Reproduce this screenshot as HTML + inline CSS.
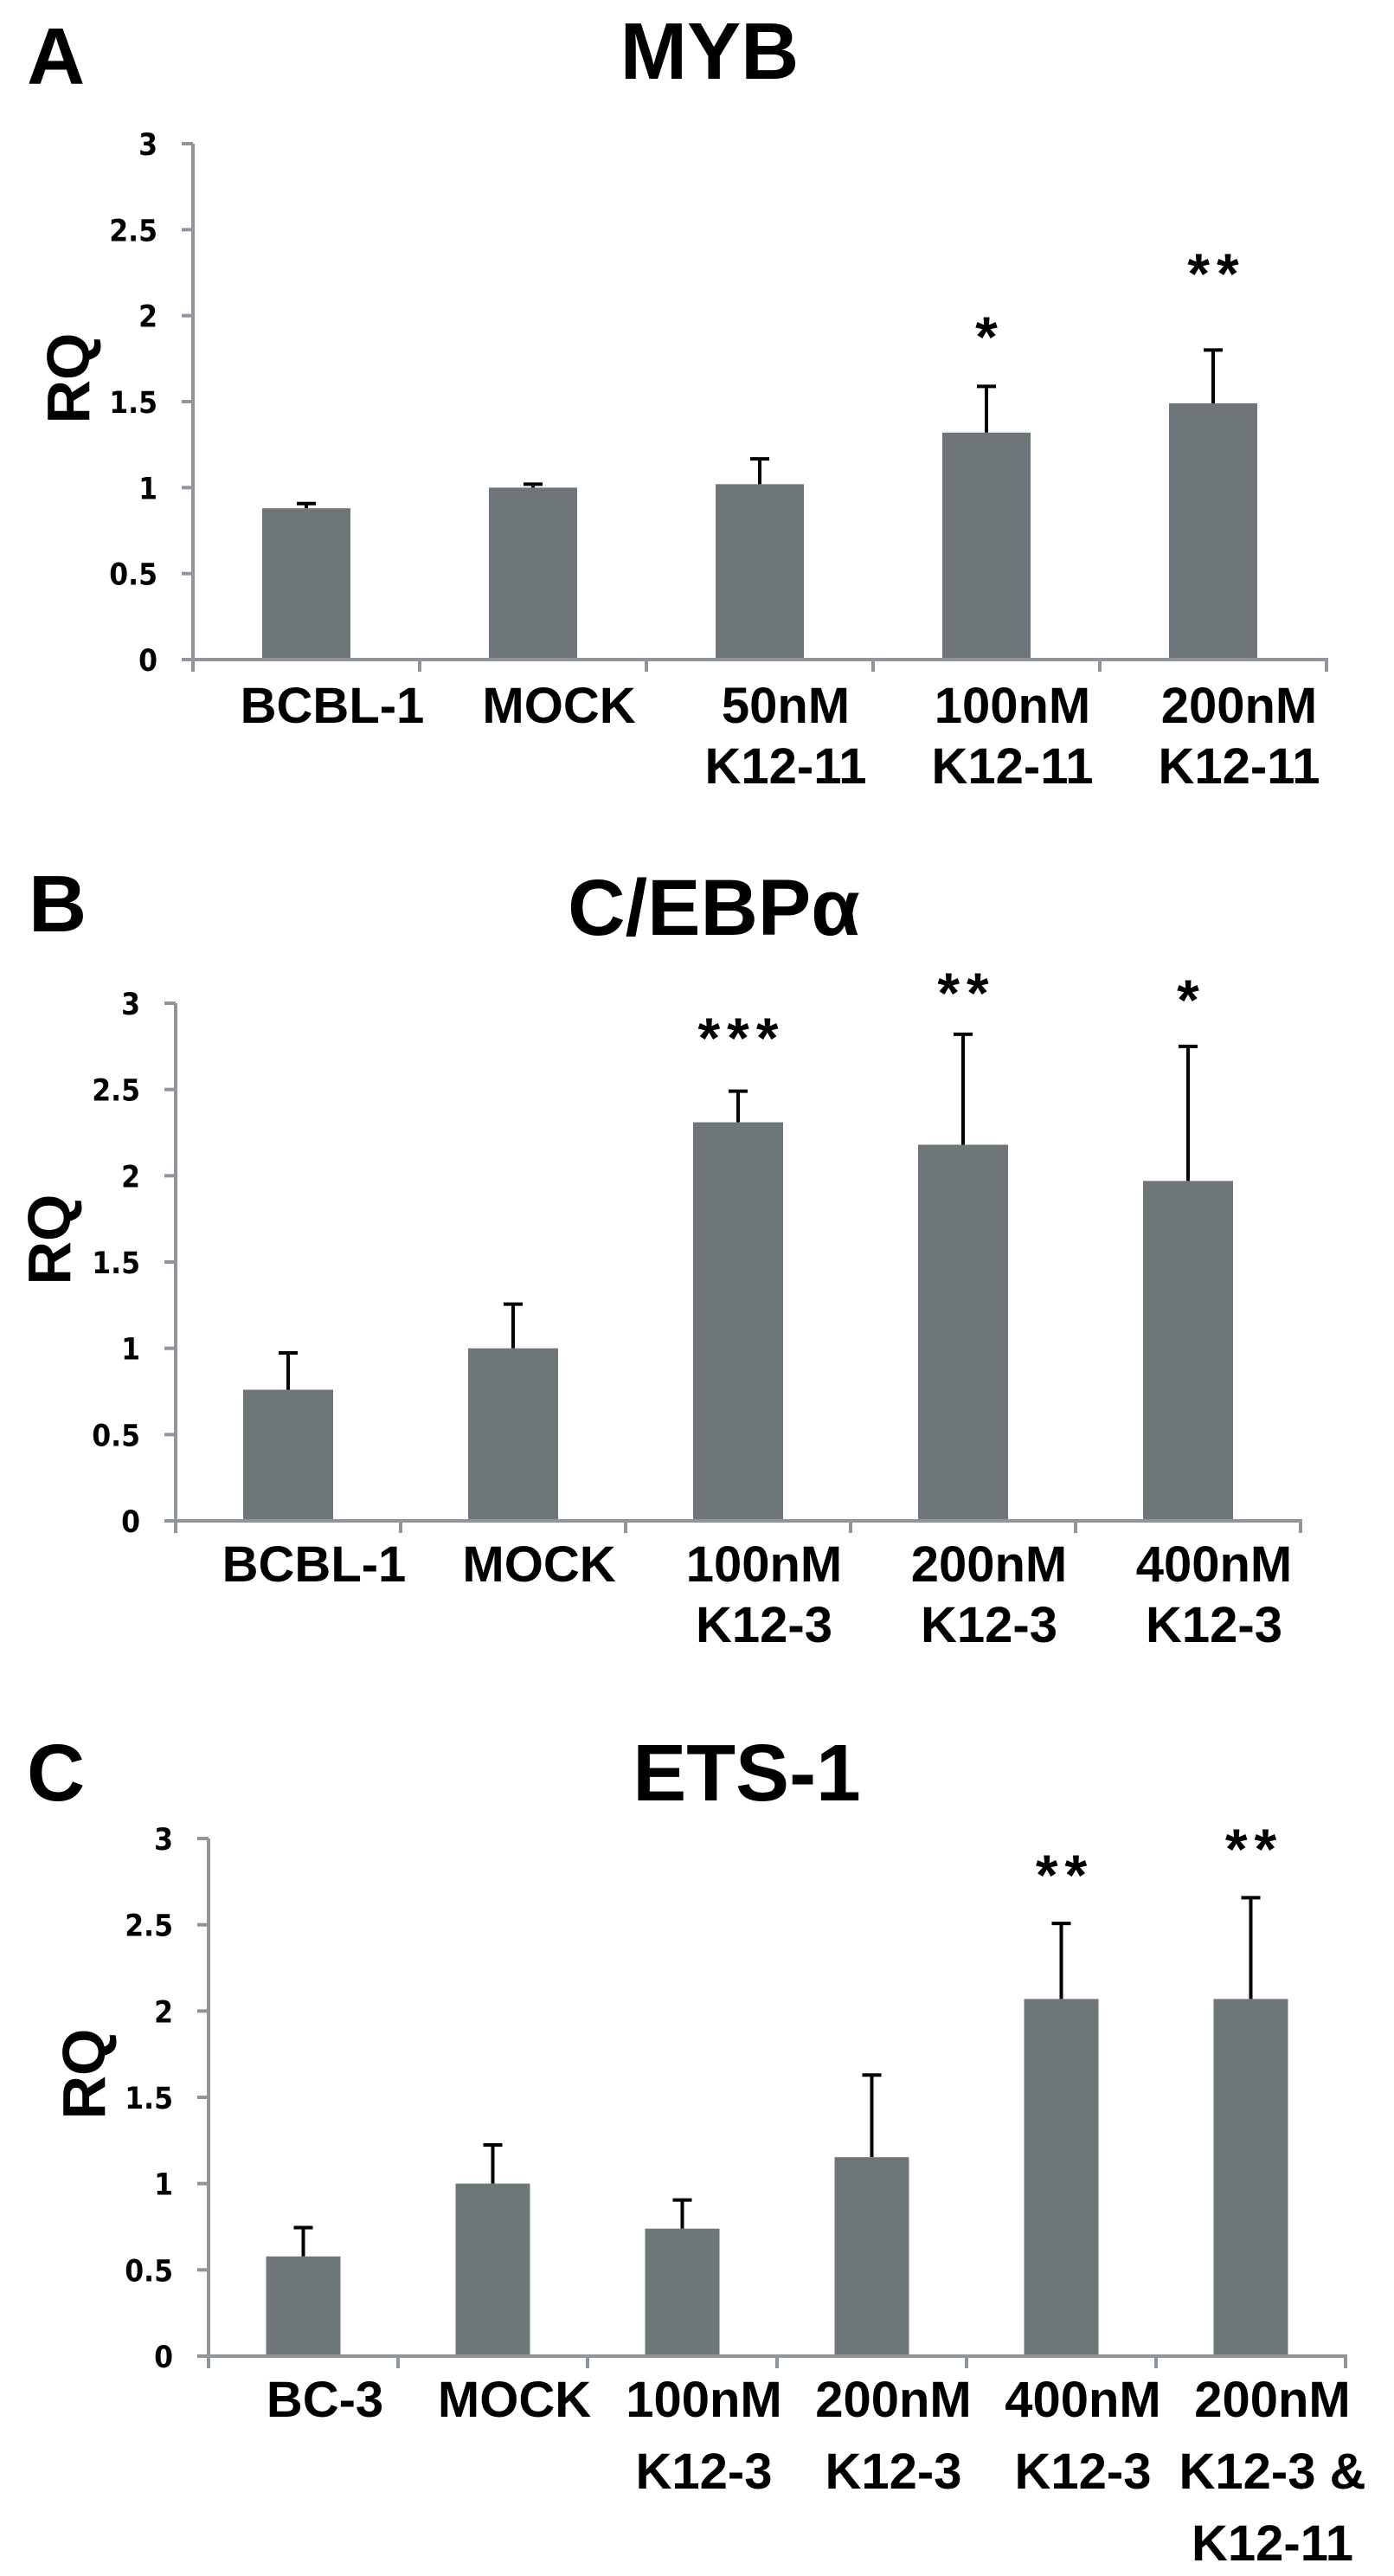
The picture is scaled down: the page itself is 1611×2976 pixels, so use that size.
<!DOCTYPE html>
<html><head><meta charset="utf-8"><style>
html,body{margin:0;padding:0;background:#fff}
svg{display:block}
.lbl{font-family:"Liberation Sans",sans-serif;font-weight:bold;fill:#000}
.tick{font-family:"DejaVu Sans Condensed","DejaVu Sans",sans-serif;font-weight:bold;fill:#000}
</style></head><body>
<svg id="fig" width="1611" height="2976" viewBox="0 0 1611 2976" xmlns="http://www.w3.org/2000/svg">
<text class="lbl" x="31" y="97" font-size="93">A</text>
<text class="lbl" x="820" y="91" font-size="93" text-anchor="middle">MYB</text>
<text class="lbl" x="33" y="1076" font-size="93">B</text>
<text class="lbl" x="825" y="1080" font-size="92" text-anchor="middle">C/EBPα</text>
<text class="lbl" x="31" y="2080" font-size="93">C</text>
<text class="lbl" x="863" y="2080" font-size="93" text-anchor="middle">ETS-1</text>
</svg>
<script>
// ---- data ----
var aCats = [["BCBL-1"],["MOCK"],["50nM","K12-11"],["100nM","K12-11"],["200nM","K12-11"]];
var aValues = [0.88, 1.0, 1.02, 1.32, 1.49];
var aErrTop = [0.907, 1.02, 1.167, 1.589, 1.80];
var aStars = ["", "", "", "*", "**"];
var bCats = [["BCBL-1"],["MOCK"],["100nM","K12-3"],["200nM","K12-3"],["400nM","K12-3"]];
var bValues = [0.76, 1.0, 2.31, 2.18, 1.97];
var bErrTop = [0.973, 1.256, 2.49, 2.82, 2.75];
var bStars = ["", "", "***", "**", "*"];
var cCats = [["BC-3"],["MOCK"],["100nM","K12-3"],["200nM","K12-3"],["400nM","K12-3"],["200nM","K12-3 &","K12-11"]];
var cValues = [0.578, 1.0, 0.739, 1.153, 2.07, 2.07];
var cErrTop = [0.745, 1.224, 0.905, 1.629, 2.508, 2.657];
var cStars = ["", "", "", "", "**", "**"];
var yTickLabels = ["0","0.5","1","1.5","2","2.5","3"];
var yTickValues = [0,0.5,1,1.5,2,2.5,3];

// ---- layout ----
var panels = [
 {id:"a", cats:aCats, vals:aValues, err:aErrTop, stars:aStars, ax:223, y0:762, y3:166, cw:262, bw:102, lab1:835, lsp:70, lshift:30, rq:[78,437], starY:[0,0,0,412,339]},
 {id:"b", cats:bCats, vals:bValues, err:bErrTop, stars:bStars, ax:203, y0:1757, y3:1159, cw:260, bw:104, lab1:1827, lsp:70, lshift:30, rq:[56,1432], starY:[0,0,1222,1170,1178]},
 {id:"c", cats:cCats, vals:cValues, err:cErrTop, stars:cStars, ax:241, y0:2722, y3:2124, cw:219, bw:86, lab1:2792, lsp:83, lshift:25, rq:[96,2396], starY:[0,0,0,0,2189,2159]}
];
var NS="http://www.w3.org/2000/svg";
var svg=document.getElementById("fig");
function mk(tag,attrs,parent){var e=document.createElementNS(NS,tag);for(var k in attrs)e.setAttribute(k,attrs[k]);(parent||svg).appendChild(e);return e;}
var AX="#8f959a";
panels.forEach(function(p){
  var g=mk("g",{});
  
  
  function yS(v){return p.y0-(p.y0-p.y3)*v/3;}
  function xC(i){return p.ax+p.cw*(i+0.5);}
  var n=p.cats.length, xEnd=p.ax+p.cw*n;
  var ya=mk("line",{x1:p.ax,y1:yS(3),x2:p.ax,y2:p.y0+14,stroke:AX,"stroke-width":4},g);
  
  
  yTickValues.forEach(function(v,i){
    var t=mk("line",{x1:p.ax-13,y1:yS(v),x2:p.ax,y2:yS(v),stroke:AX,"stroke-width":4},g);
    
    
    var tl=mk("text",{x:p.ax-41,y:yS(v)+13,"font-size":35,"text-anchor":"end","class":"tick"},g);
    tl.textContent=yTickLabels[i];
    
    
  });
  var xa=mk("line",{x1:p.ax-13,y1:p.y0,x2:xEnd+2,y2:p.y0,stroke:AX,"stroke-width":4},g);
  
  
  for(var k=0;k<=n;k++){
    var xt=mk("line",{x1:p.ax+p.cw*k,y1:p.y0,x2:p.ax+p.cw*k,y2:p.y0+14,stroke:AX,"stroke-width":4},g);
    
    
  }
  p.vals.forEach(function(v,i){
    var cx=xC(i);
    var ey=yS(p.err[i]), by=yS(v);
    var el=mk("line",{x1:cx,y1:by,x2:cx,y2:ey,stroke:"#000","stroke-width":4},g);
    
    
    var ec=mk("line",{x1:cx-11,y1:ey,x2:cx+11,y2:ey,stroke:"#000","stroke-width":4},g);
    
    
    var r=mk("rect",{x:cx-p.bw/2,y:by,width:p.bw,height:p.y0-2-by,fill:"#6f7679"},g);
    
    
    if(p.stars[i]){
      var s=mk("text",{x:cx+4,y:p.starY[i],"font-size":66,"font-weight":"bold","text-anchor":"middle","letter-spacing":8,"font-family":"Liberation Sans, sans-serif",fill:"#000"},g);
      s.textContent=p.stars[i];
      
      
    }
    p.cats[i].forEach(function(line,j){
      var t=mk("text",{x:cx+p.lshift,y:p.lab1+p.lsp*j,"font-size":58,"text-anchor":"middle","class":"lbl"},g);
      t.textContent=line;
      
      
    });
  });
  var rq=mk("text",{x:0,y:0,"font-size":70,"text-anchor":"middle","class":"lbl",transform:"translate("+(p.rq[0]+25)+","+p.rq[1]+") rotate(-90)"},g);
  rq.textContent="RQ";
  
  
});
</script>
</body></html>
